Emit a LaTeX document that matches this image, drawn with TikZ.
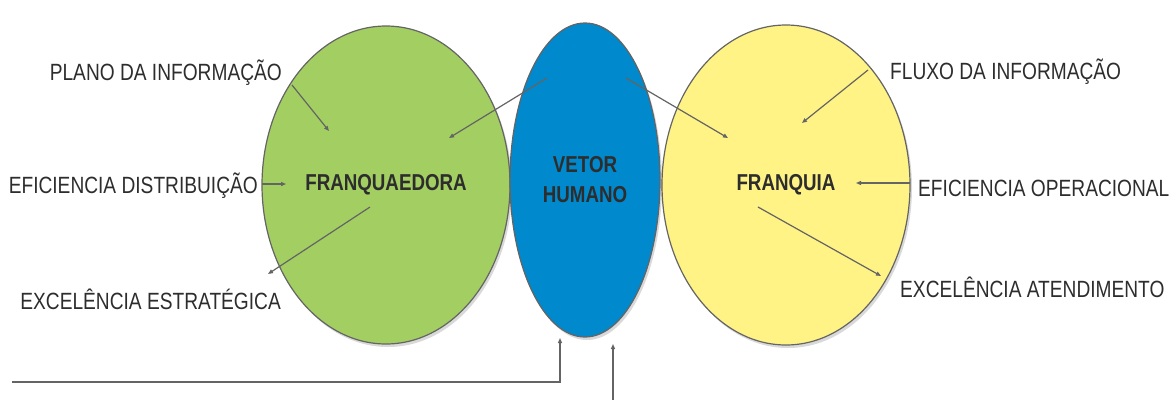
\documentclass[tikz,border=0pt]{standalone}
\usepackage{fontspec}
\setmainfont{Liberation Sans}[FakeStretch=0.815]
\usetikzlibrary{shapes.geometric,arrows.meta,shadows}
\definecolor{cgreen}{RGB}{163,206,98}
\definecolor{cblue}{RGB}{0,137,204}
\definecolor{cyellow}{RGB}{255,243,133}
\definecolor{cline}{RGB}{100,100,100}
\definecolor{ctext}{RGB}{45,45,45}
\begin{document}
\begin{tikzpicture}[x=1pt,y=-1pt,
  blob/.style={ellipse, draw=cline, line width=1.2pt, inner sep=0pt,
    drop shadow={shadow xshift=2pt, shadow yshift=-3pt, fill=black, opacity=0.15},
    font=\fontsize{23}{30}\selectfont\bfseries, text=ctext, align=center},
  lbl/.style={inner sep=0pt, font=\fontsize{23.5}{28}\selectfont, text=ctext},
  conn/.style={draw=cline, line width=1.2pt, -{Triangle[length=5pt,width=4pt]}}
]
\useasboundingbox (0,0) rectangle (1173,400);
\node[blob, fill=cgreen, minimum width=248pt, minimum height=318pt] (fr) at (386,185) {FRANQUAEDORA};
\node[blob, fill=cyellow, minimum width=248pt, minimum height=320pt] (fq) at (786,185) {FRANQUIA};
\node[blob, fill=cblue, minimum width=150pt, minimum height=314pt] (vh) at (585,180) {VETOR\\HUMANO};

\node[lbl, anchor=east] (pi) at (282,73) {PLANO DA INFORMAÇÃO};
\node[lbl, anchor=east] (ed) at (258,186) {EFICIENCIA DISTRIBUIÇÃO};
\node[lbl, anchor=east] (ee) at (281,299) {EXCELÊNCIA ESTRATÉGICA};
\node[lbl, anchor=west] (fi) at (890,72) {FLUXO DA INFORMAÇÃO};
\node[lbl, anchor=west] (eo) at (918,188) {EFICIENCIA OPERACIONAL};
\node[lbl, anchor=west] (ea) at (900,287) {EXCELÊNCIA ATENDIMENTO};

\coordinate (a1) at (292,85);  \coordinate (a2) at (329,131);
\coordinate (b1) at (262,184); \coordinate (b2) at (286,184);
\coordinate (c1) at (370,207); \coordinate (c2) at (268,274);
\coordinate (d1) at (547,78);  \coordinate (d2) at (449,138);
\coordinate (e1) at (626,78);  \coordinate (e2) at (728,138);
\coordinate (f1) at (868,70);  \coordinate (f2) at (802,123);
\coordinate (g1) at (910,183); \coordinate (g2) at (856,183);
\coordinate (h1) at (758,207); \coordinate (h2) at (881,276);
\coordinate (i0) at (12,382);  \coordinate (i1) at (560,382); \coordinate (i2) at (560,338);
\coordinate (j1) at (613,400); \coordinate (j2) at (613,344);

\draw[conn] (a1) -- (a2);
\draw[conn] (b1) -- (b2);
\draw[conn] (c1) -- (c2);
\draw[conn] (d1) -- (d2);
\draw[conn] (e1) -- (e2);
\draw[conn] (f1) -- (f2);
\draw[conn] (g1) -- (g2);
\draw[conn] (h1) -- (h2);
\draw[conn] (i0) -- (i1) -- (i2);
\draw[conn] (j1) -- (j2);
\end{tikzpicture}
\end{document}
